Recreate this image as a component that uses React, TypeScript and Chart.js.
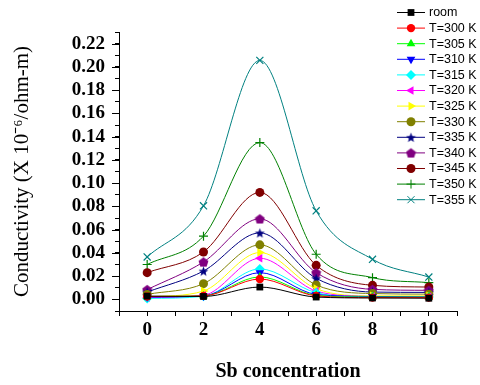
import React, { useEffect, useRef } from 'react';
import { Chart, registerables } from 'chart.js';
import { drawPoint } from 'chart.js/helpers';

Chart.register(...registerables);

// ---- data ----
const sbConcentration = [0, 2, 4, 6, 8, 10];

const room = [0.0028, 0.0025, 0.0106, 0.002, 0.0012, 0.001];
const t300 = [0.0025, 0.003, 0.0175, 0.003, 0.0015, 0.0015];
const t305 = [0.0025, 0.003, 0.0193, 0.0035, 0.002, 0.002];
const t310 = [0.002, 0.003, 0.023, 0.0043, 0.0025, 0.002];
const t315 = [0.0008, 0.0026, 0.0262, 0.0058, 0.002, 0.002];
const t320 = [0.0015, 0.0035, 0.0354, 0.0072, 0.0025, 0.0025];
const t325 = [0.002, 0.0072, 0.0403, 0.0092, 0.003, 0.003];
const t330 = [0.0043, 0.0135, 0.0469, 0.0124, 0.005, 0.0045];
const t335 = [0.0063, 0.0244, 0.0572, 0.0181, 0.0063, 0.006];
const t340 = [0.0084, 0.0322, 0.0693, 0.023, 0.0086, 0.0078];
const t345 = [0.023, 0.0408, 0.092, 0.0293, 0.0121, 0.0106];
const t350 = [0.03, 0.0544, 0.1349, 0.0388, 0.0187, 0.0144];
const t355 = [0.0365, 0.0805, 0.2056, 0.0762, 0.0345, 0.0192];

const seriesLabels = [
  'room', 'T=300 K', 'T=305 K', 'T=310 K', 'T=315 K', 'T=320 K', 'T=325 K',
  'T=330 K', 'T=335 K', 'T=340 K', 'T=345 K', 'T=350 K', 'T=355 K',
];
const seriesValues = [room, t300, t305, t310, t315, t320, t325, t330, t335, t340, t345, t350, t355];
const seriesColors = [
  '#000000', '#ff0000', '#00ff00', '#0000ff', '#00ffff', '#ff00ff', '#ffff00',
  '#808000', '#000080', '#800080', '#800000', '#008000', '#008080',
];

const yTickValues = [0, 0.02, 0.04, 0.06, 0.08, 0.1, 0.12, 0.14, 0.16, 0.18, 0.2, 0.22];
const xTickValues = [0, 2, 4, 6, 8, 10];

function makeShape(color: string, kind: 'star' | 'pentagon', size: number) {
  const c = document.createElement('canvas');
  c.width = size;
  c.height = size;
  const ctx = c.getContext('2d')!;
  const cx = size / 2;
  const cy = size / 2;
  const R = size / 2 - 0.3;
  ctx.beginPath();
  if (kind === 'star') {
    const r = R * 0.42;
    for (let i = 0; i < 10; i++) {
      const a = -Math.PI / 2 + (i * Math.PI) / 5;
      const rr = i % 2 === 0 ? R : r;
      const px = cx + rr * Math.cos(a);
      const py = cy + 0.5 + rr * Math.sin(a);
      if (i === 0) ctx.moveTo(px, py);
      else ctx.lineTo(px, py);
    }
  } else {
    for (let i = 0; i < 5; i++) {
      const a = -Math.PI / 2 + (i * 2 * Math.PI) / 5;
      const px = cx + R * Math.cos(a);
      const py = cy + 0.5 + R * Math.sin(a);
      if (i === 0) ctx.moveTo(px, py);
      else ctx.lineTo(px, py);
    }
  }
  ctx.closePath();
  ctx.fillStyle = color;
  ctx.fill();
  return c;
}

const legendPlugin = {
  id: 'customLegend',
  afterDraw(chart: any) {
    const ctx = chart.ctx;
    ctx.save();
    const x0 = 397;
    const x1 = 425;
    const xm = 411;
    const textX = 429;
    const startY = 12.5;
    const step = 15.6;
    chart.data.datasets.forEach((ds: any, i: number) => {
      const y = startY + i * step;
      ctx.strokeStyle = ds.borderColor;
      ctx.lineWidth = 1;
      ctx.beginPath();
      ctx.moveTo(x0, y);
      ctx.lineTo(x1, y);
      ctx.stroke();
      ctx.fillStyle = ds.pointBackgroundColor;
      ctx.strokeStyle = ds.pointBorderColor;
      drawPoint(ctx, {
        pointStyle: ds.pointStyle,
        rotation: ds.pointRotation || 0,
        radius: ds.pointRadius,
        borderWidth: ds.pointBorderWidth,
      }, xm, y);
      ctx.fillStyle = '#000';
      ctx.font = '12.5px "Liberation Sans", Arial, sans-serif';
      ctx.textAlign = 'left';
      ctx.textBaseline = 'middle';
      ctx.fillText(seriesLabels[i], textX, y + 0.5);
    });
    ctx.restore();
  },
};

// minor ticks shorter than the major ones (major = labelled)
const minorTickPlugin = {
  id: 'minorTicks',
  afterDraw(chart: any) {
    const ctx = chart.ctx;
    const { x, y } = chart.scales;
    ctx.save();
    ctx.strokeStyle = '#000';
    ctx.lineWidth = 1;
    ctx.beginPath();
    y.ticks.forEach((t: any) => {
      const k = Math.round(t.value * 100);
      if (Math.abs(k % 2) === 0 && k >= 0 && k <= 22) {
        const py = Math.round(y.getPixelForValue(t.value)) + 0.5;
        ctx.moveTo(y.right - 7, py);
        ctx.lineTo(y.right, py);
      }
    });
    ctx.stroke();
    ctx.restore();
  },
};

export default function App() {
  const ref = useRef<HTMLCanvasElement | null>(null);

  useEffect(() => {
    if (!ref.current) return;
    const styles: any[] = [
      { s: 'rect', r: 4.8, rot: 0 },
      { s: 'circle', r: 4.2, rot: 0 },
      { s: 'triangle', r: 5, rot: 0 },
      { s: 'triangle', r: 5, rot: 180 },
      { s: 'rectRot', r: 5, rot: 0 },
      { s: 'triangle', r: 5, rot: -90 },
      { s: 'triangle', r: 5, rot: 90 },
      { s: 'circle', r: 4.5, rot: 0 },
      { s: makeShape('#000080', 'star', 11), r: 5, rot: 0 },
      { s: makeShape('#800080', 'pentagon', 11), r: 5, rot: 0 },
      { s: 'circle', r: 4.5, rot: 0 },
      { s: 'cross', r: 4.5, rot: 0 },
      { s: 'crossRot', r: 5, rot: 0 },
    ];

    const datasets = seriesValues.map((vals, i) => {
      const st = styles[i];
      const lineOnly = st.s === 'cross' || st.s === 'crossRot';
      return {
        label: seriesLabels[i],
        data: sbConcentration.map((x, j) => ({ x, y: vals[j] })),
        borderColor: seriesColors[i],
        backgroundColor: seriesColors[i],
        borderWidth: 1,
        cubicInterpolationMode: 'monotone',
        pointStyle: st.s,
        pointRotation: st.rot,
        pointRadius: st.r,
        pointBackgroundColor: seriesColors[i],
        pointBorderColor: seriesColors[i],
        pointBorderWidth: lineOnly ? 1.2 : 0,
        fill: false,
      };
    });

    const chart = new Chart(ref.current, {
      type: 'line',
      data: { datasets: datasets as any },
      options: {
        animation: false,
        responsive: false,
        layout: { padding: { top: 32, right: 23, left: 0, bottom: 0 } },
        plugins: {
          legend: { display: false },
          tooltip: { enabled: false },
        },
        scales: {
          x: {
            type: 'linear',
            min: -1,
            max: 11,
            afterFit: (scale: any) => { scale.height = 74; },
            afterBuildTicks: (scale: any) => {
              const t = [];
              for (let v = -1; v <= 11; v++) t.push({ value: v });
              scale.ticks = t;
            },
            ticks: {
              autoSkip: false,
              maxRotation: 0,
              padding: 3,
              color: '#000',
              font: { family: '"Liberation Serif", "Times New Roman", serif', size: 19, weight: 'bold' },
              callback: (v: any) => (xTickValues.includes(Math.round(v)) && Math.abs(v - Math.round(v)) < 1e-6 ? String(Math.round(v)) : ''),
            },
            grid: { drawOnChartArea: false, drawTicks: true, tickLength: 5, color: '#000' },
            border: { display: true, color: '#000', width: 1 },
            title: {
              display: true,
              text: 'Sb concentration',
              color: '#000',
              font: { family: '"Liberation Serif", "Times New Roman", serif', size: 20, weight: 'bold' },
              padding: { top: 0, bottom: 1 },
            },
          },
          y: {
            type: 'linear',
            min: -0.01,
            max: 0.23,
            afterFit: (scale: any) => { scale.width = 119; },
            afterBuildTicks: (scale: any) => {
              const t = [];
              for (let k = -1; k <= 23; k++) t.push({ value: k / 100 });
              scale.ticks = t;
            },
            ticks: {
              autoSkip: false,
              padding: 10,
              color: '#000',
              font: { family: '"Liberation Serif", "Times New Roman", serif', size: 19, weight: 'bold' },
              callback: (v: any) => {
                const k = Math.round(Number(v) * 100);
                const match = yTickValues.find((t) => Math.round(t * 100) === k);
                return match !== undefined ? match.toFixed(2) : '';
              },
            },
            grid: { drawOnChartArea: false, drawTicks: true, tickLength: 4, color: '#000' },
            border: { display: true, color: '#000', width: 1 },
            title: {
              display: true,
              text: 'Conductivity (X 10\u207B\u2076/ohm-m)',
              color: '#000',
              font: { family: '"Liberation Serif", "Times New Roman", serif', size: 21, weight: 'normal' },
              padding: { top: 10, bottom: 0 },
            },
          },
        },
      },
      plugins: [minorTickPlugin, legendPlugin],
    } as any);

    return () => chart.destroy();
  }, []);

  return (
    <div style={{ position: 'absolute', left: 0, top: 0, width: 480, height: 385, background: '#fff' }}>
      <canvas ref={ref} width={480} height={385} style={{ display: 'block', width: 480, height: 385 }} />
    </div>
  );
}
